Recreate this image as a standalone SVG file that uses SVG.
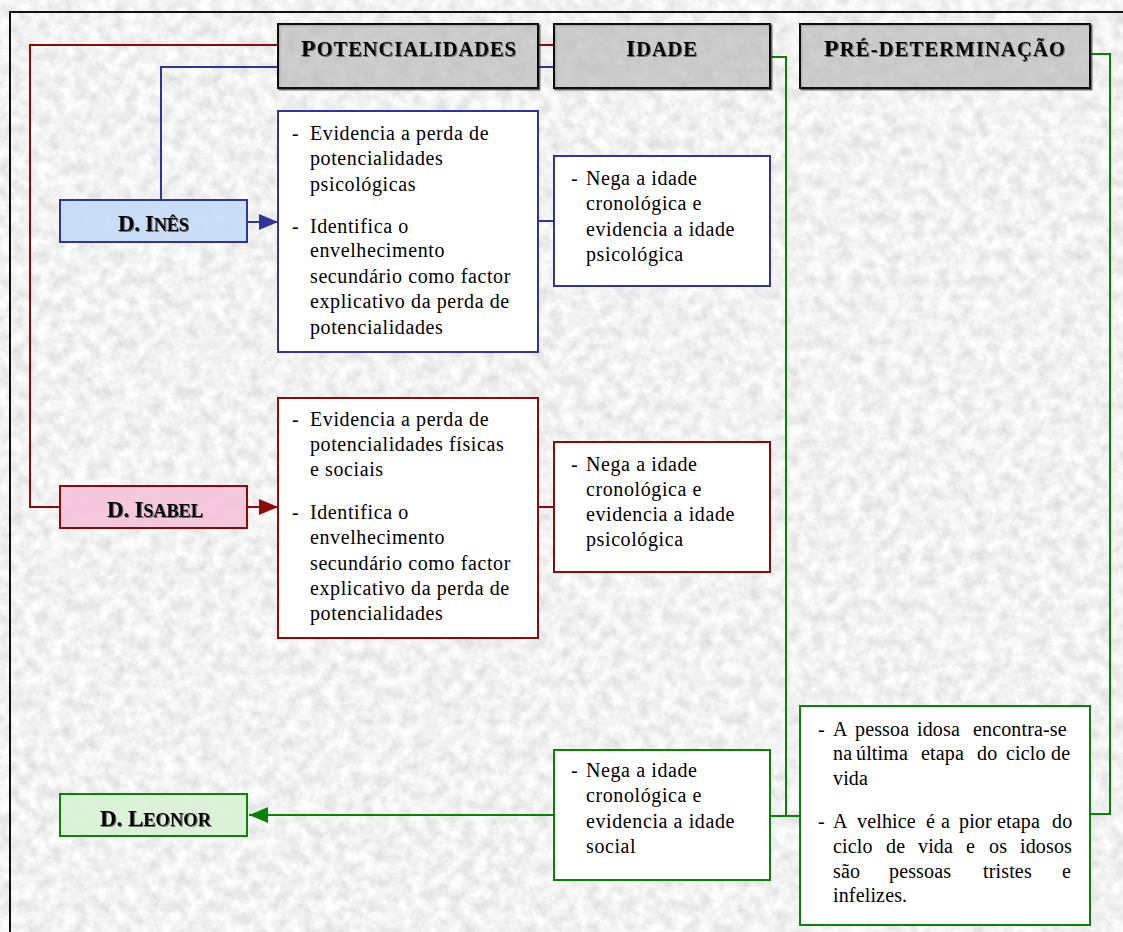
<svg xmlns="http://www.w3.org/2000/svg" width="1123" height="932" viewBox="0 0 1123 932">
  <style>
    .body { font-family: "Liberation Serif", "Times New Roman", serif; font-size: 20px; letter-spacing: 0.6px; fill: #000; }
    .tight { letter-spacing: 0.15px; }
    .head { font-family: "Liberation Serif", "Times New Roman", serif; font-weight: bold; fill: #000; filter: url(#txtshadow); }
    .big { font-size: 24px; }
    .sc { font-size: 20.5px; }
    .nbig { font-size: 23px; }
    .nsc { font-size: 18.5px; }
    .hdr { fill: #d2d2d2; fill-opacity: 0.5; stroke: #111; stroke-width: 2; }
    .card { fill: #fff; stroke-width: 2; }
    .blue { stroke: #33339a; }
    .red { stroke: #8b0a0a; }
    .green { stroke: #0a820a; }
    .wire { fill: none; stroke-width: 2; }
  </style>
  <defs>
    <filter id="grain" x="0" y="0" width="100%" height="100%" filterUnits="userSpaceOnUse">
      <feTurbulence type="fractalNoise" baseFrequency="0.08" numOctaves="4" seed="7" result="n"/>
      <feColorMatrix in="n" type="matrix" values="0.4 0 0 0 0.69  0.4 0 0 0 0.69  0.4 0 0 0 0.69  0 0 0 0 1"/>
    </filter>
    <filter id="txtshadow" x="-5%" y="-20%" width="110%" height="140%">
      <feDropShadow dx="1" dy="1" stdDeviation="0.4" flood-color="#555" flood-opacity="0.8"/>
    </filter>
    <filter id="boxshadow" x="-5%" y="-5%" width="110%" height="120%">
      <feDropShadow dx="1.5" dy="1.5" stdDeviation="0.6" flood-color="#333" flood-opacity="0.7"/>
    </filter>
    <marker id="arrBlue" markerUnits="userSpaceOnUse" markerWidth="20" markerHeight="18" refX="19" refY="8" orient="auto">
      <path d="M0,0 L19,8 L0,16 z" fill="#33339a"/>
    </marker>
    <marker id="arrRed" markerUnits="userSpaceOnUse" markerWidth="20" markerHeight="18" refX="19" refY="8" orient="auto">
      <path d="M0,0 L19,8 L0,16 z" fill="#8b0a0a"/>
    </marker>
    <marker id="arrGreen" markerUnits="userSpaceOnUse" markerWidth="20" markerHeight="18" refX="19" refY="8" orient="auto">
      <path d="M0,0 L19,8 L0,16 z" fill="#0a820a"/>
    </marker>
  </defs>

  <!-- page and textured panel -->
  <rect x="0" y="0" width="1123" height="932" fill="#fff"/>
  <rect x="10" y="12" width="1130" height="940" fill="#ddd" filter="url(#grain)"/>
  <rect x="10" y="12" width="1130" height="940" fill="none" stroke="#111" stroke-width="2"/>

  <!-- connectors -->
  <g id="connectors" class="wire">
    <path d="M278,45 H30 V507 H60" class="red"/>
    <path d="M538,45 H554" class="red"/>
    <path d="M278,67 H161 V199" class="blue"/>
    <path d="M538,67 H554" class="blue"/>
    <path d="M247,222 H278" class="blue" marker-end="url(#arrBlue)"/>
    <path d="M538,221 H554" class="blue"/>
    <path d="M247,507 H278" class="red" marker-end="url(#arrRed)"/>
    <path d="M538,507 H554" class="red"/>
    <path d="M771,57 H786 V816" class="green"/>
    <path d="M770,816 H800" class="green"/>
    <path d="M1090,54 H1110 V814 H1090" class="green"/>
    <path d="M554,815 H249" class="green" marker-end="url(#arrGreen)"/>
  </g>

  <!-- column headers -->
  <g id="hdr-potencialidades">
    <rect x="278" y="24" width="260" height="64" class="hdr" filter="url(#boxshadow)"/>
    <text x="301" y="56" class="head" textLength="215" lengthAdjust="spacing"><tspan class="big">P</tspan><tspan class="sc">OTENCIALIDADES</tspan></text>
  </g>
  <g id="hdr-idade">
    <rect x="554" y="24" width="216" height="64" class="hdr" filter="url(#boxshadow)"/>
    <text x="626" y="56" class="head" textLength="71" lengthAdjust="spacing"><tspan class="big">I</tspan><tspan class="sc">DADE</tspan></text>
  </g>
  <g id="hdr-predeterminacao">
    <rect x="800" y="24" width="290" height="64" class="hdr" filter="url(#boxshadow)"/>
    <text x="824" y="56" class="head" textLength="241" lengthAdjust="spacing"><tspan class="big">P</tspan><tspan class="sc">RÉ-DETERMINAÇÃO</tspan></text>
  </g>

  <!-- people -->
  <g id="ines">
    <rect x="60" y="200" width="187" height="42" fill="#c4dcf6" fill-opacity="0.9" stroke="#33339a" stroke-width="2"/>
    <text x="118" y="231" class="head" textLength="71" lengthAdjust="spacing"><tspan class="nbig">D. I</tspan><tspan class="nsc">NÊS</tspan></text>
  </g>
  <g id="isabel">
    <rect x="60" y="486" width="187" height="42" fill="#f4c2da" fill-opacity="0.9" stroke="#8b0a0a" stroke-width="2"/>
    <text x="107" y="517" class="head" textLength="96" lengthAdjust="spacing"><tspan class="nbig">D. I</tspan><tspan class="nsc">SABEL</tspan></text>
  </g>
  <g id="leonor">
    <rect x="60" y="794" width="187" height="42" fill="#d8f2d6" fill-opacity="0.9" stroke="#0a820a" stroke-width="2"/>
    <text x="100" y="826" class="head" textLength="111" lengthAdjust="spacing"><tspan class="nbig">D. L</tspan><tspan class="nsc">EONOR</tspan></text>
  </g>

  <!-- D. Inês: potencialidades -->
  <g id="ines-potencialidades">
    <rect x="278" y="111" width="260" height="241" class="card blue"/>
    <text class="body">
      <tspan x="292" y="140">-</tspan><tspan x="310" y="140">Evidencia a perda de</tspan>
      <tspan x="310" y="165">potencialidades</tspan>
      <tspan x="310" y="190.5">psicológicas</tspan>
      <tspan x="292" y="232.5">-</tspan><tspan x="310" y="232.5">Identifica o</tspan>
      <tspan x="310" y="257">envelhecimento</tspan>
      <tspan x="310" y="282.5">secundário como factor</tspan>
      <tspan x="310" y="308">explicativo da perda de</tspan>
      <tspan x="310" y="333.5">potencialidades</tspan>
    </text>
  </g>
  <!-- D. Inês: idade -->
  <g id="ines-idade">
    <rect x="554" y="156" width="216" height="130" class="card blue"/>
    <text class="body">
      <tspan x="571" y="185">-</tspan><tspan x="586" y="185">Nega a idade</tspan>
      <tspan x="586" y="210">cronológica e</tspan>
      <tspan x="586" y="235.5">evidencia a idade</tspan>
      <tspan x="586" y="261">psicológica</tspan>
    </text>
  </g>

  <!-- D. Isabel: potencialidades -->
  <g id="isabel-potencialidades">
    <rect x="278" y="398" width="260" height="240" class="card red"/>
    <text class="body">
      <tspan x="292" y="426">-</tspan><tspan x="310" y="426">Evidencia a perda de</tspan>
      <tspan x="310" y="451">potencialidades físicas</tspan>
      <tspan x="310" y="476">e sociais</tspan>
      <tspan x="292" y="519">-</tspan><tspan x="310" y="519">Identifica o</tspan>
      <tspan x="310" y="544">envelhecimento</tspan>
      <tspan x="310" y="569.5">secundário como factor</tspan>
      <tspan x="310" y="595">explicativo da perda de</tspan>
      <tspan x="310" y="620">potencialidades</tspan>
    </text>
  </g>
  <!-- D. Isabel: idade -->
  <g id="isabel-idade">
    <rect x="554" y="442" width="216" height="130" class="card red"/>
    <text class="body">
      <tspan x="571" y="470.5">-</tspan><tspan x="586" y="470.5">Nega a idade</tspan>
      <tspan x="586" y="495.5">cronológica e</tspan>
      <tspan x="586" y="520.5">evidencia a idade</tspan>
      <tspan x="586" y="545.5">psicológica</tspan>
    </text>
  </g>

  <!-- D. Leonor: idade -->
  <g id="leonor-idade">
    <rect x="554" y="750" width="216" height="130" class="card green"/>
    <text class="body">
      <tspan x="571" y="777">-</tspan><tspan x="586" y="777">Nega a idade</tspan>
      <tspan x="586" y="802">cronológica e</tspan>
      <tspan x="586" y="827.5">evidencia a idade</tspan>
      <tspan x="586" y="853">social</tspan>
    </text>
  </g>

  <!-- D. Leonor: pré-determinação (justified lines set word by word) -->
  <g id="leonor-predeterminacao">
    <rect x="800" y="706" width="290" height="219" class="card green"/>
    <text class="body tight">
      <tspan x="818" y="735.5">-</tspan><tspan x="833" y="735.5">A</tspan><tspan x="855" y="735.5">pessoa</tspan><tspan x="917" y="735.5">idosa</tspan><tspan x="973" y="735.5">encontra-se</tspan>
      <tspan x="833" y="760">na</tspan><tspan x="856" y="760">última</tspan><tspan x="921" y="760">etapa</tspan><tspan x="977" y="760">do</tspan><tspan x="1006" y="760">ciclo</tspan><tspan x="1051" y="760">de</tspan>
      <tspan x="833" y="784.5">vida</tspan>
      <tspan x="818" y="827.5">-</tspan><tspan x="833" y="827.5">A</tspan><tspan x="857" y="827.5">velhice</tspan><tspan x="926" y="827.5">é</tspan><tspan x="941" y="827.5">a</tspan><tspan x="959" y="827.5">pior</tspan><tspan x="997" y="827.5">etapa</tspan><tspan x="1052" y="827.5">do</tspan>
      <tspan x="833" y="852.5">ciclo</tspan><tspan x="886" y="852.5">de</tspan><tspan x="918" y="852.5">vida</tspan><tspan x="966" y="852.5">e</tspan><tspan x="989" y="852.5">os</tspan><tspan x="1020" y="852.5">idosos</tspan>
      <tspan x="833" y="877.5">são</tspan><tspan x="889" y="877.5">pessoas</tspan><tspan x="983" y="877.5">tristes</tspan><tspan x="1062" y="877.5">e</tspan>
      <tspan x="833" y="902">infelizes.</tspan>
    </text>
  </g>
</svg>
